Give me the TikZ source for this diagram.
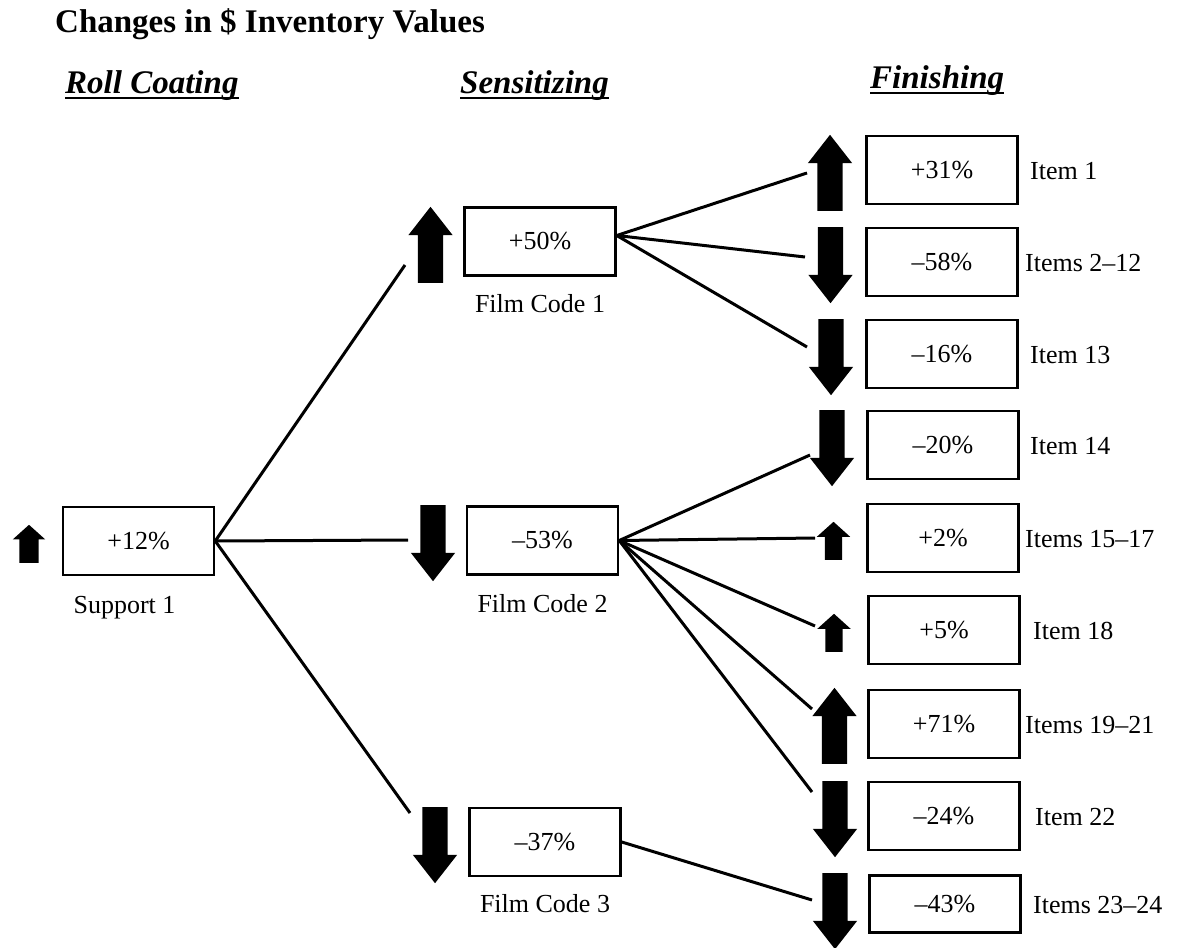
\documentclass[tikz,border=0pt]{standalone}
\usepackage{fontspec}
\setmainfont{Liberation Serif}
\usetikzlibrary{shapes.arrows}
\tikzset{
  box/.style={draw, line width=2.5pt, minimum width=151pt, minimum height=68pt, inner sep=0pt, font=\fontsize{26}{30}\selectfont},
  lbl/.style={font=\fontsize{26}{30}\selectfont, inner sep=0pt},
  hdr/.style={font=\bfseries\itshape\fontsize{33}{38}\selectfont, inner sep=0pt},
  uline/.style={line width=2.5pt},
  conn/.style={line width=3pt},
  bigarr/.style={single arrow, fill=black, draw=none, inner xsep=0pt, inner ysep=12.5pt, minimum height=76pt, single arrow head extend=9.5pt, single arrow tip angle=76, anchor=tail},
  smallarr/.style={single arrow, fill=black, draw=none, inner xsep=0pt, inner ysep=8.5pt, minimum height=38pt, single arrow head extend=8pt, single arrow tip angle=96, anchor=tail},
  pointup/.style={rotate=90},
  pointdown/.style={rotate=-90}
}
\begin{document}
\begin{tikzpicture}[x=1pt, y=-1pt]
\useasboundingbox (0,0) rectangle (1177,947);

% title and headers
\node[anchor=base west, font=\bfseries\fontsize{33}{38}\selectfont, inner sep=0pt] (title) at (55,33) {Changes in \$ Inventory Values};
\node[hdr, anchor=base west] (h1) at (65,94) {Roll Coating};
\node[hdr, anchor=base west] (h2) at (460,94) {Sensitizing};
\node[hdr, anchor=base west] (h3) at (870,89) {Finishing};
\draw[uline] ([yshift=-4pt]h1.base west) -- ([yshift=-4pt]h1.base east);
\draw[uline] ([yshift=-4pt]h2.base west) -- ([yshift=-4pt]h2.base east);
\draw[uline] ([yshift=-4pt]h3.base west) -- ([yshift=-4pt]h3.base east);

% roll coating
\node[box] (s1) at (138.5,541) {+12\%};
\node[lbl, anchor=base] (s1l) at ([xshift=-14pt, yshift=-37pt]s1.south) {Support 1};
\node[smallarr, pointup, inner ysep=9.5pt, single arrow head extend=6.5pt] (sa) at (29,563) {};

% sensitizing
\node[box] (f1) at (540,241.5) {+50\%};
\node[box] (f2) at (542.5,540.5) {–53\%};
\node[box] (f3) at (545,842) {–37\%};
\node[lbl, anchor=base] (f1l) at ([yshift=-36pt]f1.south) {Film Code 1};
\node[lbl, anchor=base] (f2l) at ([yshift=-37pt]f2.south) {Film Code 2};
\node[lbl, anchor=base] (f3l) at ([yshift=-35pt]f3.south) {Film Code 3};
\node[bigarr, pointup] (fa1) at (430.5,283) {};
\node[bigarr, pointdown] (fa2) at (433,505) {};
\node[bigarr, pointdown] (fa3) at (435,807) {};

% finishing boxes
\node[box] (b1) at (942,170) {+31\%};
\node[box] (b2) at (942,262) {–58\%};
\node[box] (b3) at (942,354) {–16\%};
\node[box] (b4) at (943,445) {–20\%};
\node[box] (b5) at (943,538) {+2\%};
\node[box] (b6) at (944,630) {+5\%};
\node[box] (b7) at (944,724) {+71\%};
\node[box] (b8) at (944,816) {–24\%};
\node[box, minimum height=57pt] (b9) at (945,904) {–43\%};

% finishing labels
\node[lbl, anchor=base west] (l1) at (1030,179) {Item 1};
\node[lbl, anchor=base west] (l2) at (1025,271) {Items 2–12};
\node[lbl, anchor=base west] (l3) at (1030,363) {Item 13};
\node[lbl, anchor=base west] (l4) at (1030,454) {Item 14};
\node[lbl, anchor=base west] (l5) at (1025,547) {Items 15–17};
\node[lbl, anchor=base west] (l6) at (1033,639) {Item 18};
\node[lbl, anchor=base west] (l7) at (1025,733) {Items 19–21};
\node[lbl, anchor=base west] (l8) at (1035,825) {Item 22};
\node[lbl, anchor=base west] (l9) at (1033,913) {Items 23–24};

% finishing arrows
\node[bigarr, pointup] (a1) at (830,211) {};
\node[bigarr, pointdown] (a2) at (830.5,227) {};
\node[bigarr, pointdown] (a3) at (831,319) {};
\node[bigarr, pointdown] (a4) at (832,410) {};
\node[smallarr, pointup] (a5) at (833.5,560) {};
\node[smallarr, pointup] (a6) at (834,652) {};
\node[bigarr, pointup] (a7) at (834.5,764) {};
\node[bigarr, pointdown] (a8) at (835,781) {};
\node[bigarr, pointdown] (a9) at (835,873) {};

% connector end points
\coordinate (ef1) at (405,265);
\coordinate (ef2) at (408,540);
\coordinate (ef3) at (410,813);
\coordinate (e1) at (807,173);
\coordinate (e2) at (805,257);
\coordinate (e3) at (807,347);
\coordinate (e4) at (810,455);
\coordinate (e5) at (815,538);
\coordinate (e6) at (815,626);
\coordinate (e7) at (812,709);
\coordinate (e8) at (812,792);
\coordinate (e9) at (812,900);

% connectors
\draw[conn] (s1.east) -- (ef1);
\draw[conn] (s1.east) -- (ef2);
\draw[conn] (s1.east) -- (ef3);
\draw[conn] ([yshift=6pt]f1.east) -- (e1);
\draw[conn] ([yshift=6pt]f1.east) -- (e2);
\draw[conn] ([yshift=6pt]f1.east) -- (e3);
\draw[conn] (f2.east) -- (e4);
\draw[conn] (f2.east) -- (e5);
\draw[conn] (f2.east) -- (e6);
\draw[conn] (f2.east) -- (e7);
\draw[conn] (f2.east) -- (e8);
\draw[conn] (f3.east) -- (e9);
\end{tikzpicture}
\end{document}
